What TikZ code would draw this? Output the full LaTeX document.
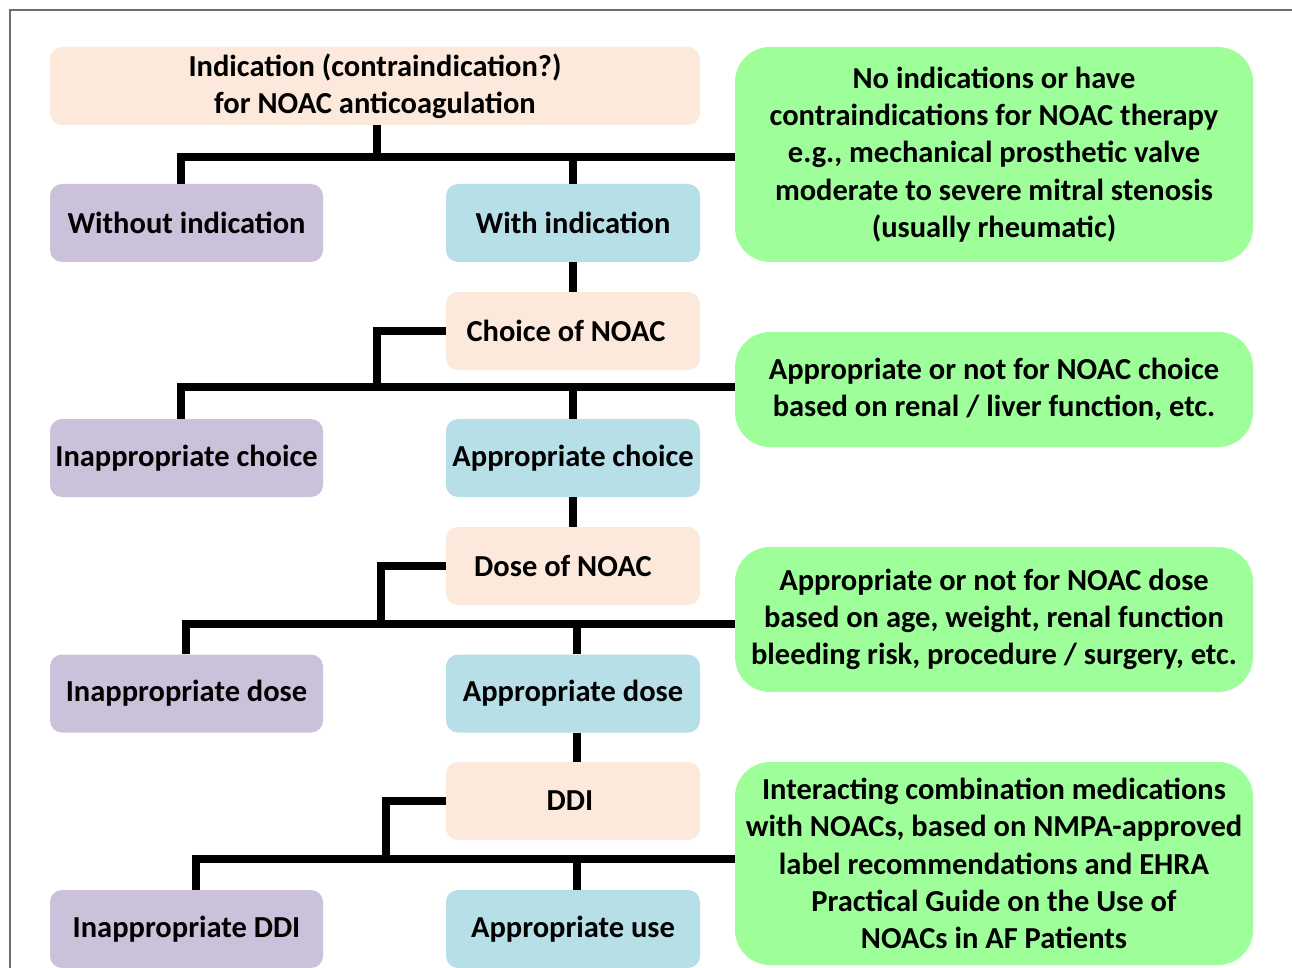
\documentclass[tikz,border=0pt]{standalone}
\usepackage{fontspec}
\setmainfont{Carlito}
\definecolor{peach}{HTML}{FCE9DB}
\definecolor{lilac}{HTML}{CBC1DB}
\definecolor{lblue}{HTML}{B7DFE8}
\definecolor{lgreen}{HTML}{9EFF9A}
\definecolor{frame}{HTML}{6E6E6E}
\tikzset{
  box/.style={rectangle, rounded corners=12pt, inner sep=0pt, align=center,
    font=\fontsize{30.5}{37.3}\selectfont\bfseries, text=black},
  pbox/.style={box, fill=peach},
  vbox/.style={box, fill=lilac, minimum width=273pt, minimum height=78pt},
  bbox/.style={box, fill=lblue, minimum width=254pt, minimum height=78pt},
  gbox/.style={box, fill=lgreen, rounded corners=35pt, minimum width=518pt},
  conn/.style={line width=8pt, line join=miter, black},
}
\begin{document}
\begin{tikzpicture}[x=1pt,y=-1pt]
\useasboundingbox (0,0) rectangle (1292,968);
\fill[white] (0,0) rectangle (1292,968);
\draw[frame, line width=1.3pt] (10,968) -- (10,10) -- (1292,10);

% left column / middle column nodes
\node[pbox, minimum width=650pt, minimum height=78pt] (top) at (375,86)
  {Indication (contraindication?)\\for NOAC anticoagulation};
\node[vbox] (wo) at (186.5,223) {Without indication};
\node[bbox] (wi) at (573,223) {With indication};
\node[pbox, minimum width=254pt, minimum height=78pt] (ch) at (573,331) {\hspace*{-14pt}Choice of NOAC};
\node[vbox] (ic) at (186.5,458) {Inappropriate choice};
\node[bbox] (ac) at (573,458) {Appropriate choice};
\node[pbox, minimum width=254pt, minimum height=78pt] (ds) at (573,566) {\hspace*{-20pt}Dose of NOAC};
\node[vbox] (id) at (186.5,693.5) {Inappropriate dose};
\node[bbox] (ad) at (573,693.5) {Appropriate dose};
\node[pbox, minimum width=254pt, minimum height=78pt] (ddi) at (573,801) {\hspace*{-6pt}DDI};
\node[vbox] (iddi) at (186.5,929) {Inappropriate DDI};
\node[bbox] (au) at (573,929) {Appropriate use};

% green nodes
\node[gbox, minimum height=215pt] (g1) at (994,154.5)
  {No indications or have\\contraindications for NOAC therapy\\e.g., mechanical prosthetic valve\\moderate to severe mitral stenosis\\(usually rheumatic)};
\node[gbox, minimum height=115pt] (g2) at (994,389.5)
  {Appropriate or not for NOAC choice\\based on renal / liver function, etc.};
\node[gbox, minimum height=145pt] (g3) at (994,619.5)
  {Appropriate or not for NOAC dose\\based on age, weight, renal function\\bleeding risk, procedure / surgery, etc.};
\node[gbox, minimum height=203pt] (g4) at (994,863.5)
  {Interacting combination medications\\with NOACs, based on NMPA-approved\\label recommendations and EHRA\\Practical Guide on the Use of\\NOACs in AF Patients};

% bus coordinates at the green boxes' left edges
\coordinate (b1) at (g1.west |- 0,157);
\coordinate (b2) at (g2.west |- 0,387);
\coordinate (b3) at (g3.west |- 0,624);
\coordinate (b4) at (g4.west |- 0,859);

% level 1
\draw[conn] ([xshift=2pt]top.south) -- ([xshift=2pt]top.south |- b1);
\draw[conn] ([xshift=-5.5pt]wo.north) |- (b1);
\draw[conn] (wi.north) -- (wi.north |- b1);
\draw[conn] (wi.south) -- (ch.north);
% level 2
\draw[conn] (ch.west) -| ([xshift=-69pt]ch.west |- b2);
\draw[conn] ([xshift=-5.5pt]ic.north) |- (b2);
\draw[conn] (ac.north) -- (ac.north |- b2);
\draw[conn] (ac.south) -- (ds.north);
% level 3
\draw[conn] (ds.west) -| ([xshift=-65pt]ds.west |- b3);
\draw[conn] ([xshift=-0.5pt]id.north) |- (b3);
\draw[conn] ([xshift=4pt]ad.north) -- ([xshift=4pt]ad.north |- b3);
\draw[conn] ([xshift=4pt]ad.south) -- ([xshift=4pt]ddi.north);
% level 4
\draw[conn] (ddi.west) -| ([xshift=-60pt]ddi.west |- b4);
\draw[conn] ([xshift=9.5pt]iddi.north) |- (b4);
\draw[conn] ([xshift=4pt]au.north) -- ([xshift=4pt]au.north |- b4);
\end{tikzpicture}
\end{document}
